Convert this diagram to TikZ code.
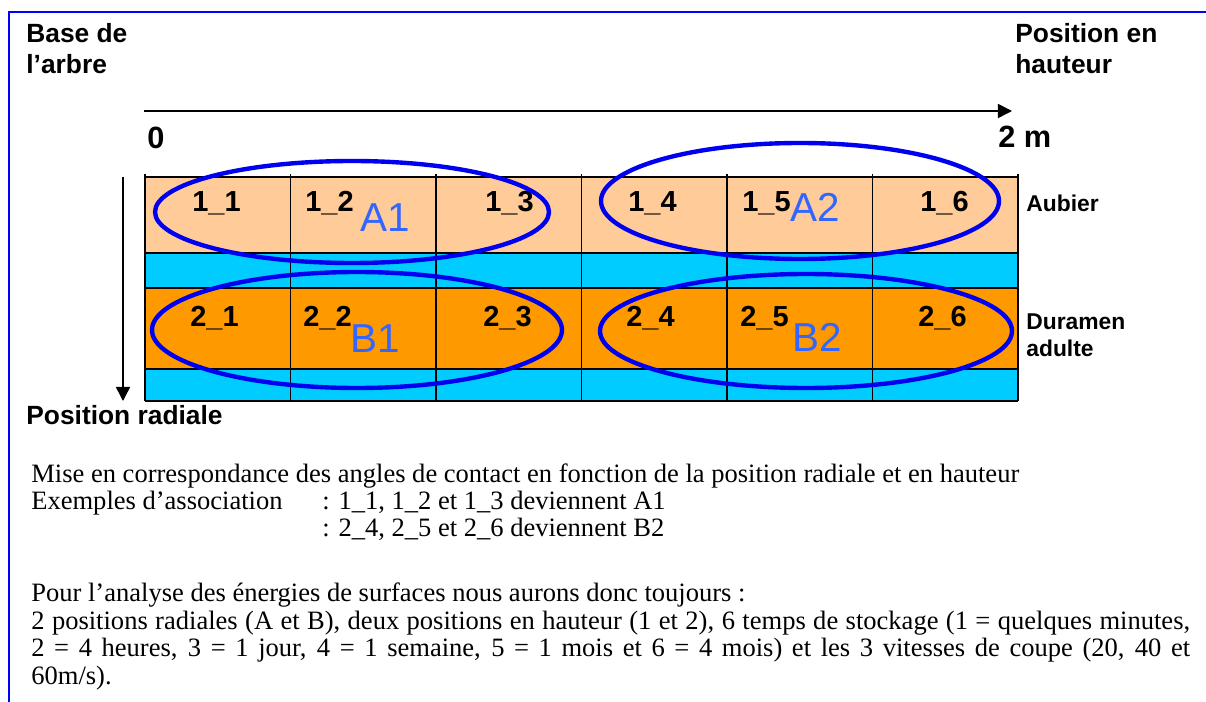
\documentclass[tikz,border=0pt]{standalone}
\usepackage{fontspec}
\setmainfont{Liberation Serif}
\newfontfamily\arialfont{Liberation Sans}
\usetikzlibrary{arrows.meta}

\definecolor{cadre}{HTML}{0000FF}
\definecolor{aubier}{HTML}{FFCC99}
\definecolor{duramen}{HTML}{FF9900}
\definecolor{cerne}{HTML}{00CCFF}
\definecolor{bleugroupe}{HTML}{3366FF}
\definecolor{contour}{HTML}{0000F0}

\tikzset{
	axe/.style = {line width=0.85pt, -{Triangle[length=8pt, width=8pt]}},
	titre/.style = {font=\arialfont\bfseries\fontsize{15}{18}\selectfont, anchor=base west, inner sep=0pt, align=left},
	couche/.style = {font=\arialfont\bfseries\fontsize{13}{15.5}\selectfont, anchor=base west, inner sep=0pt, align=left},
	cellule/.style = {font=\arialfont\bfseries\fontsize{16.5}{19}\selectfont, anchor=base west, inner sep=0pt},
	groupe/.style = {font=\arialfont\fontsize{23}{26}\selectfont, text=bleugroupe, anchor=base west, inner sep=0pt},
	zone/.style = {draw=contour, line width=2.5pt},
	texte/.style = {font=\fontsize{15.1}{15.65}\selectfont, anchor=base west, inner sep=0pt, align=left}
}

\begin{document}
\begin{tikzpicture}[x=0.02cm, y=-0.02cm]
	\useasboundingbox (0,0) rectangle (1206,702);

	% cadre
	\draw[cadre, line width=1.1pt] (9,702) -- (9,12) -- (1206,12);

	% titres (base = derniere ligne):
	\node[titre] (base) at (26,74) {Base de\\l’arbre};
	\node[titre] (hauteur) at (1015,74) {Position en\\hauteur};
	\node[titre] (radiale) at (26,424) {Position radiale};

	% axes
	\coordinate (origine) at (144,111);
	\coordinate (bout) at (1012,111);
	\draw[axe] (origine) -- (bout);
	\node[titre, font=\arialfont\bfseries\fontsize{17.5}{20}\selectfont] (zero) at (147,149) {0};
	\node[titre, font=\arialfont\bfseries\fontsize{17.5}{20}\selectfont] (deuxm) at (998,148) {2 m};
	\coordinate (haut) at (123,177);
	\coordinate (bas) at (123,401);
	\draw[axe] (haut) -- (bas);

	% couches du tronc
	\fill[aubier] (145,177) rectangle (1018,253);
	\fill[cerne] (145,253) rectangle (1018,288);
	\fill[duramen] (145,288) rectangle (1018,369);
	\fill[cerne] (145,369) rectangle (1018,401);
	\foreach \y in {177,253,288,369,401}
		\draw[line width=1.1pt] (145,\y) -- (1018,\y);
	\foreach \x in {145,290.5,436,581.5,727,872.5,1018}
		\draw[line width=1.1pt] (\x,174) -- (\x,401);

	\node[couche] (aub) at (1026,212) {Aubier};
	\node[couche] (dur) at (1026,357) {Duramen\\adulte};

	% echantillons
	\foreach \x/\n in {192/1,305/2,485/3,628/4,742/5,920/6} {
		\node[cellule] (c1\n) at (\x,212) {1\_\n};
		\node[cellule] (c2\n) at (\x-2,326) {2\_\n};
	}

	% regroupements
	\draw[zone] (352,212) ellipse [x radius=197, y radius=51];
	\draw[zone] (800,201) ellipse [x radius=199, y radius=58];
	\draw[zone] (357,330) ellipse [x radius=205, y radius=58];
	\draw[zone] (806,331) ellipse [x radius=206, y radius=57];
	\node[groupe] (ga1) at (360,232) {A1};
	\node[groupe] (ga2) at (790,222) {A2};
	\node[groupe] (gb1) at (350,353) {B1};
	\node[groupe] (gb2) at (792,352) {B2};

	% commentaire
	\node[texte] (mise) at (31,482) {Mise en correspondance des angles de contact en fonction de la position radiale et en hauteur};
	\node[texte] (exemples) at (31,509) {Exemples d’association};
	\node[texte] (assoca) at (322,509) {: 1\_1, 1\_2 et 1\_3 deviennent A1};
	\node[texte] (assocb) at (322,536) {: 2\_4, 2\_5 et 2\_6 deviennent B2};
	\node[texte] (pour) at (31,601) {Pour l’analyse des énergies de surfaces nous aurons donc toujours :};
	\node[texte] (bilan) at (31,684) {%
		\makebox[23.18cm][s]{2 positions radiales (A et B), deux positions en hauteur (1 et 2), 6 temps de stockage (1 = quelques minutes,}\\
		\makebox[23.18cm][s]{2 = 4 heures, 3 = 1 jour, 4 = 1 semaine, 5 = 1 mois et 6 = 4 mois) et les 3 vitesses de coupe (20, 40 et}\\
		60m/s).};
\end{tikzpicture}
\end{document}
